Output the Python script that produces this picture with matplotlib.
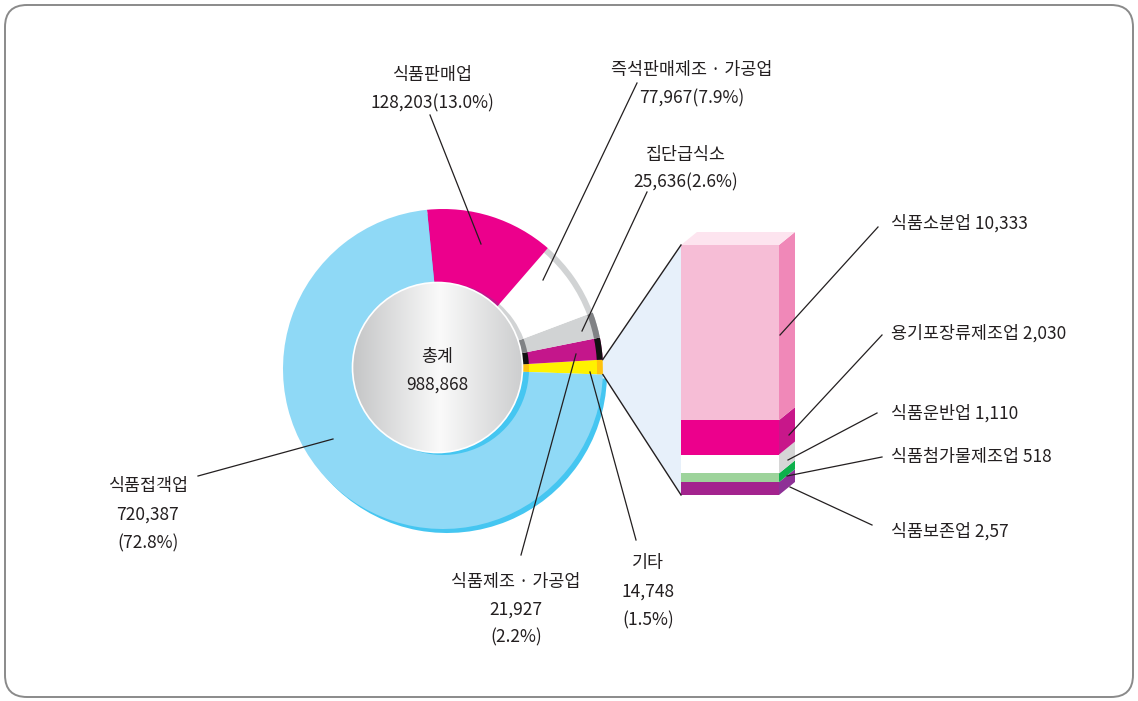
import matplotlib
matplotlib.use('Agg')
import matplotlib.pyplot as plt
import numpy as np
from matplotlib.patches import Wedge, Circle, Polygon, FancyBboxPatch
from matplotlib.colors import LinearSegmentedColormap

plt.rcParams['font.family'] = ['Noto Sans CJK KR', 'DejaVu Sans']

# ---------------- data ----------------
donut_names = ['기타', '식품제조 · 가공업', '집단급식소', '즉석판매제조 · 가공업', '식품판매업', '식품접객업']
donut_values = [14748, 21927, 25636, 77967, 128203, 720387]
donut_pcts = ['1.5%', '2.2%', '2.6%', '7.9%', '13.0%', '72.8%']
total_title = '총계'
total_value = 988868

sub_names = ['식품보존업', '식품첨가물제조업', '식품운반업', '용기포장류제조업', '식품소분업']
sub_values = [757, 518, 1110, 2030, 10333]
sub_value_labels = ['2,57', '518', '1,110', '2,030', '10,333']

# ---------------- styles ----------------
donut_colors = ['#FFF200', '#C4168B', '#D1D3D4', '#FFFFFF', '#EC008C', '#8FD9F6']
inner_wall = ['#FFC20E', '#111111', '#808285', '#D1D3D4', '#C0188C', '#45C6F1']
outer_rim = ['#FFC20E', '#111111', '#808285', '#D1D3D4', None, None]
bar_front = ['#A3238E', '#9DD39B', '#FFFFFF', '#EC008C', '#F6BDD6']
bar_side = ['#8E3096', '#0DB04B', '#D6D6D6', '#C8178A', '#F088B8']
TXT = '#231F20'

W, H = 1138, 701
def Y(y):
    return H - y

fig = plt.figure(figsize=(W / 100, H / 100), dpi=100)
ax = fig.add_axes([0, 0, 1, 1])
ax.axis('off')

# frame
ax.add_patch(FancyBboxPatch((5, Y(697)), 1128, 692,
                            boxstyle='round,pad=0,rounding_size=22',
                            fill=False, ec='#8A8A8A', lw=1.4))

# ---------------- donut ----------------
cx, cy = 443, Y(369)
R, r_hole = 160, 84
start = -2.0
total = sum(donut_values)
angles = start + np.concatenate([[0], np.cumsum(donut_values)]) / total * 360.0

# outer wall / shadow for big light-blue wedge
i_big = len(donut_values) - 1
ax.add_patch(Wedge((cx + 4, cy - 4), R, angles[i_big], angles[i_big + 1],
                   width=R - r_hole, color=inner_wall[i_big], lw=0))

for i in range(len(donut_values)):
    a1, a2 = angles[i], angles[i + 1]
    ax.add_patch(Wedge((cx, cy), R, a1, a2, width=R - r_hole,
                       color=donut_colors[i], lw=0))
    ax.add_patch(Wedge((cx, cy), r_hole + 2, a1, a2, width=12,
                       color=inner_wall[i], lw=0))
    if outer_rim[i]:
        ax.add_patch(Wedge((cx, cy), R, a1, a2, width=6,
                           color=outer_rim[i], lw=0))

# inner disc with gradient
dcx, dcy, dr = 437.5, Y(367.5), 85
cmap = LinearSegmentedColormap.from_list(
    'disc', [(0, '#C4C5C6'), (0.52, '#FAFAFA'), (1.0, '#CDCECF')])
grad = np.tile(np.linspace(0, 1, 256), (2, 1))
disc = Circle((dcx, dcy), dr, transform=ax.transData, fc='none', ec='none')
ax.add_patch(disc)
im = ax.imshow(grad, cmap=cmap, extent=[dcx - dr, dcx + dr, dcy - dr, dcy + dr],
               aspect='auto', zorder=2, interpolation='bilinear')
im.set_clip_path(disc)
ax.add_patch(Circle((dcx, dcy), dr, fc='none', ec='white', lw=1.2, zorder=3))

ax.text(dcx, Y(357), total_title, ha='center', va='center', fontsize=12.5, color=TXT, zorder=4)
ax.text(dcx, Y(385), f'{total_value:,}', ha='center', va='center', fontsize=12.5, color=TXT, zorder=4)

# ---------------- stacked bar ----------------
bx0, bw = 681, 98
b_bottom, b_top = Y(495), Y(245)
scale = (b_top - b_bottom) / sum(sub_values)
dx, dy = 16, 13

# connector from "기타" wedge to bar
ga1, ga2 = np.radians(angles[0]), np.radians(angles[1])
p_low = (cx + R * np.cos(ga1), cy + R * np.sin(ga1))
p_up = (cx + R * np.cos(ga2), cy + R * np.sin(ga2))
ax.add_patch(Polygon([p_up, (bx0, b_top), (bx0, b_bottom), p_low],
                     closed=True, fc='#E7F0FA', ec='none', zorder=1))
ax.plot([p_up[0], bx0], [p_up[1], b_top], color=TXT, lw=1, zorder=5)
ax.plot([p_low[0], bx0], [p_low[1], b_bottom], color=TXT, lw=1, zorder=5)

heights = np.array(sub_values) * scale
bottoms = b_bottom + np.concatenate([[0], np.cumsum(heights)[:-1]])
ax.bar(bx0 + bw / 2, heights, width=bw, bottom=bottoms, color=bar_front, lw=0, zorder=3)
bx1 = bx0 + bw
for h, b, c in zip(heights, bottoms, bar_side):
    ax.add_patch(Polygon([(bx1, b), (bx1 + dx, b + dy), (bx1 + dx, b + h + dy), (bx1, b + h)],
                         closed=True, fc=c, ec='none', zorder=3))
topy = bottoms[-1] + heights[-1]
ax.add_patch(Polygon([(bx0, topy), (bx1, topy), (bx1 + dx, topy + dy), (bx0 + dx, topy + dy)],
                     closed=True, fc='#FDE4EF', ec='none', zorder=3))

# ---------------- labels ----------------
def line(p, q):
    ax.plot([p[0], q[0]], [Y(p[1]), Y(q[1])], color=TXT, lw=0.9, zorder=6)

fs = 12.5
def vstr(i):
    return f'{donut_values[i]:,}'

lab = [
    (432, [75, 103], [donut_names[4], f'{vstr(4)}({donut_pcts[4]})']),
    (692, [70, 98], [donut_names[3], f'{vstr(3)}({donut_pcts[3]})']),
    (686, [155, 182], [donut_names[2], f'{vstr(2)}({donut_pcts[2]})']),
    (148, [486, 515, 543], [donut_names[5], vstr(5), f'({donut_pcts[5]})']),
    (516, [582, 610, 637], [donut_names[1], vstr(1), f'({donut_pcts[1]})']),
    (648, [563, 592, 620], [donut_names[0], vstr(0), f'({donut_pcts[0]})']),
]
for x, ys, ts in lab:
    for yy, t in zip(ys, ts):
        ax.text(x, Y(yy), t, ha='center', va='center', fontsize=fs, color=TXT, zorder=6)

line((430, 115), (481, 244))
line((637, 83), (543, 280))
line((647, 192), (582, 331))
line((198, 476), (333, 439))
line((521, 555), (576, 354))
line((636, 540), (590, 372))

# bar labels
right_y = {4: 223, 3: 333, 2: 413, 1: 457, 0: 531}
for i in range(len(sub_names)):
    ax.text(891, Y(right_y[i]), f'{sub_names[i]} {sub_value_labels[i]}',
            ha='left', va='center', fontsize=12.5, color=TXT, zorder=6)

line((878, 227), (780, 335))
line((882, 335), (789, 435))
line((877, 413), (788, 460))
line((882, 457), (787, 476))
line((872, 525), (790, 487))

ax.set_xlim(0, W)
ax.set_ylim(0, H)
fig.savefig('out.png', dpi=100)
